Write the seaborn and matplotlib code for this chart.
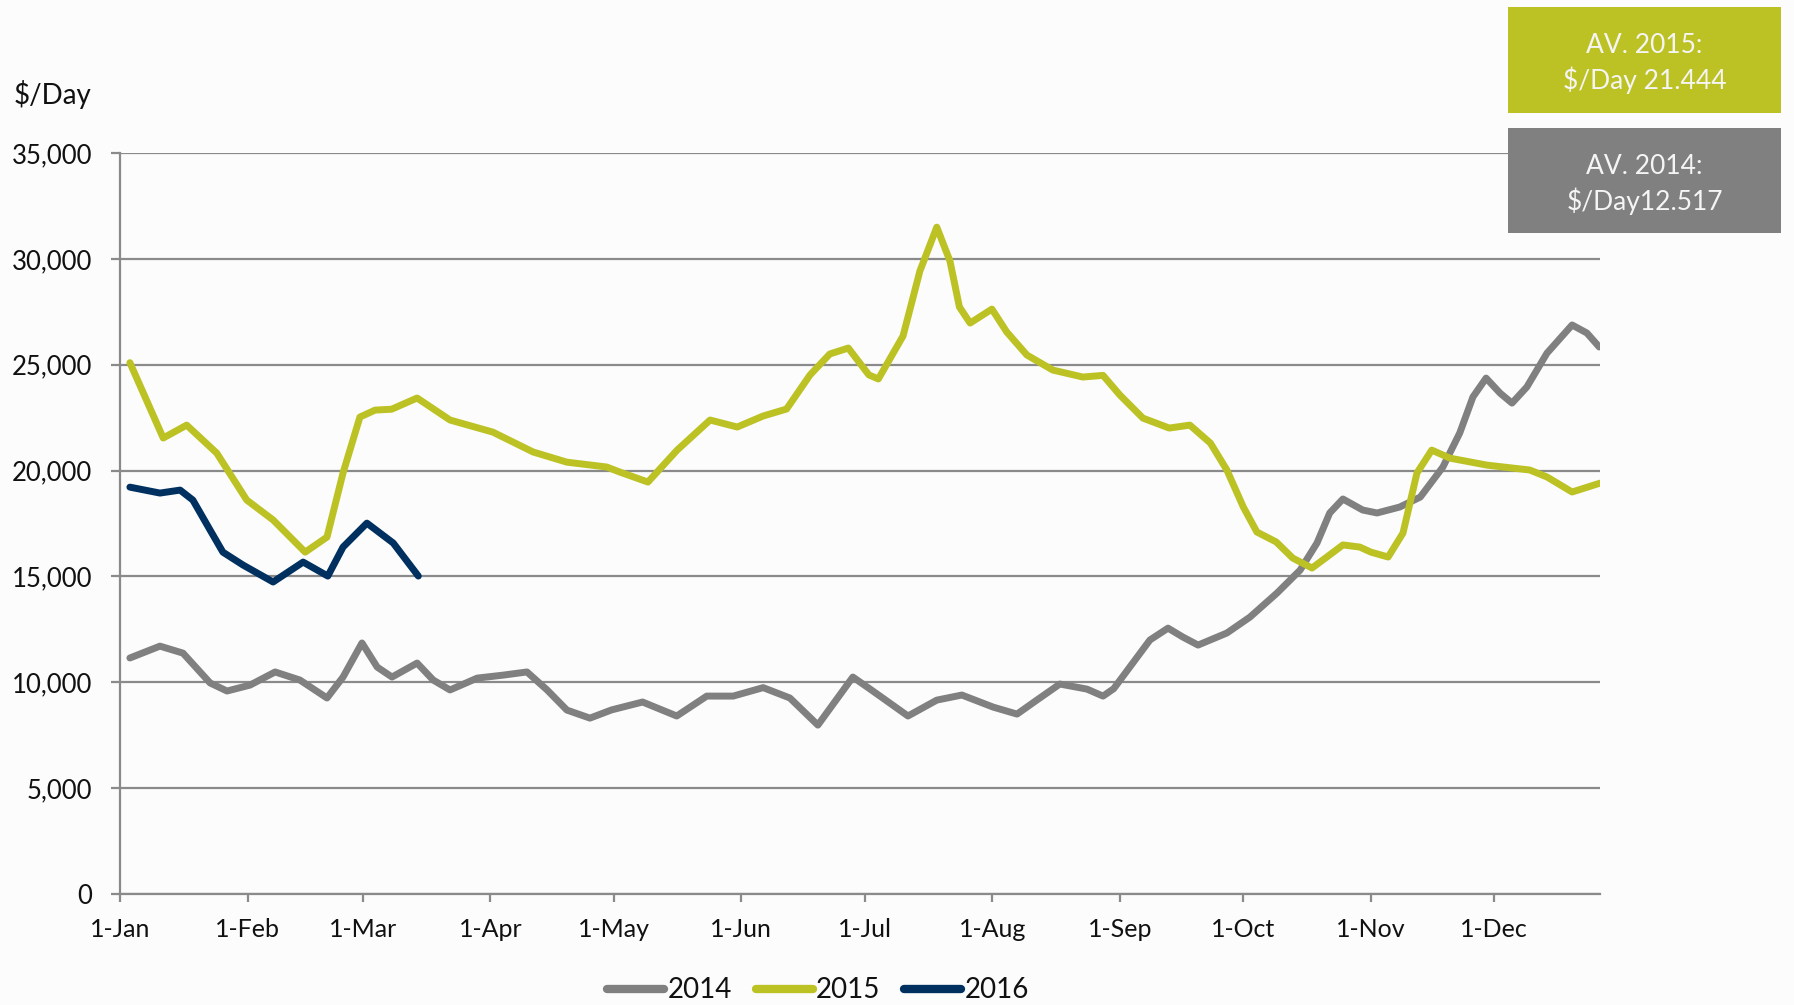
import numpy as np
import pandas as pd
import matplotlib
matplotlib.use("Agg")
import matplotlib.pyplot as plt
from matplotlib.lines import Line2D
from matplotlib.patches import Rectangle
import seaborn as sns

# Daily time-charter earnings ($/Day) by day of year
days_2014 = [2.4, 9.7, 15.3, 21.9, 26, 31.6, 37.7, 43.7, 50.3, 54.2, 58.8, 62.5, 66.1, 72.2,
             76.1, 80.2, 86.8, 93.1, 98.9, 103.8, 108.6, 114.2, 119.5, 127, 135.3, 142.6, 149,
             156.3, 162.8, 169.6, 178.1, 182.3, 184.7, 191.5, 198.5, 204.6, 212.2, 218, 222.8,
             228.4, 235, 238.9, 241.5, 245.4, 250.3, 254.7, 258.3, 262, 269, 274.6, 281.2,
             286.8, 290.9, 294, 297.2, 302, 305.5, 311, 316, 321.5, 325.6, 328.8, 332, 335.4,
             338.3, 341.9, 346.8, 352.9, 356.5, 359.5]
vals_2014 = [11150, 11710, 11380, 9970, 9590, 9870, 10490, 10110, 9260, 10250, 11860, 10720,
             10250, 10910, 10110, 9640, 10200, 10340, 10490, 9640, 8690, 8310, 8700, 9070, 8410,
             9350, 9350, 9750, 9260, 7980, 10250, 9680, 9350, 8410, 9160, 9400, 8830, 8500, 9160,
             9920, 9680, 9350, 9700, 10720, 12000, 12560, 12140, 11760, 12330, 13080, 14220,
             15300, 16580, 18000, 18660, 18140, 18000, 18280, 18750, 20170, 21780, 23480, 24370,
             23660, 23190, 23950, 25550, 26880, 26500, 25840]

days_2015 = [2.4, 10.5, 16.2, 23.5, 30.8, 37.2, 45, 50.3, 54.2, 58.3, 62, 66, 72.2, 80.2, 90.6,
             100.4, 108.6, 118.3, 121.5, 128.3, 135.4, 143.4, 150, 156.3, 162, 167.7, 172.5, 177,
             182, 184.3, 190.3, 194.4, 198.5, 201.7, 204, 206.6, 211.9, 215.5, 220.4, 226.7, 234,
             238.9, 243, 248.6, 255, 260, 265, 269, 273, 276.3, 281, 285, 289.7, 293.3, 297.2,
             301.3, 304, 308.2, 311.8, 315.2, 318.8, 323.2, 332.2, 342.6, 346.8, 352.9, 359.7]
vals_2015 = [25100, 21540, 22150, 20830, 18610, 17670, 16150, 16860, 19890, 22530, 22860, 22900,
             23430, 22390, 21820, 20880, 20400, 20170, 19930, 19460, 20970, 22390, 22060, 22580,
             22910, 24520, 25510, 25790, 24520, 24330, 26360, 29430, 31500, 29900, 27730, 26970,
             27630, 26550, 25460, 24750, 24420, 24500, 23570, 22480, 22010, 22150, 21300, 20030,
             18280, 17100, 16630, 15870, 15400, 15920, 16490, 16390, 16150, 15920, 17050, 19890,
             20970, 20590, 20260, 20030, 19700, 18990, 19410]

days_2016 = [2.4, 9.7, 14.6, 17.7, 21.9, 25, 29.9, 37.2, 44.5, 50.5, 54.2, 60, 66.4, 72.5]
vals_2016 = [19220, 18940, 19080, 18610, 17190, 16150, 15540, 14740, 15680, 15020, 16390,
             17520, 16580, 15020]

years = ["2014", "2015", "2016"]
colors = ["#808080", "#BCC224", "#00305F"]

month_starts = [0, 31, 59, 90, 120, 151, 181, 212, 243, 273, 304, 334]
month_labels = ["1-Jan", "1-Feb", "1-Mar", "1-Apr", "1-May", "1-Jun",
                "1-Jul", "1-Aug", "1-Sep", "1-Oct", "1-Nov", "1-Dec"]

avg_2015_text = ["AV. 2015:", "$/Day 21.444"]
avg_2014_text = ["AV. 2014:", "$/Day12.517"]

df = pd.concat([
    pd.DataFrame({"day": days_2014, "value": vals_2014, "year": "2014"}),
    pd.DataFrame({"day": days_2015, "value": vals_2015, "year": "2015"}),
    pd.DataFrame({"day": days_2016, "value": vals_2016, "year": "2016"}),
], ignore_index=True)

sns.set_theme(style="white")
plt.rcParams["font.family"] = ["Lato", "DejaVu Sans"]

fig = plt.figure(figsize=(17.94, 10.05), dpi=100)
fig.patch.set_facecolor("#fcfcfc")
ax = fig.add_axes([0.0669, 0.1104, 0.825, 0.7373])
ax.set_facecolor("none")

sns.lineplot(data=df, x="day", y="value", hue="year", hue_order=years,
             palette=dict(zip(years, colors)), estimator=None, sort=False,
             linewidth=5.0, legend=False, ax=ax,
             solid_joinstyle="round", solid_capstyle="round")

grid_c = "#8a8a8a"
ax.set_xlim(0, 359.7)
ax.set_ylim(0, 35000)
ax.set_yticks(np.arange(0, 35001, 5000))
ax.set_yticklabels([f"{int(v):,}" for v in np.arange(0, 35001, 5000)])
ax.set_xticks(month_starts)
ax.set_xticklabels(month_labels)
ax.yaxis.grid(True, color=grid_c, linewidth=1.6)
ax.xaxis.grid(False)
ax.set_axisbelow(True)
for side in ["top", "right"]:
    ax.spines[side].set_visible(False)
for side in ["left", "bottom"]:
    ax.spines[side].set_color(grid_c)
    ax.spines[side].set_linewidth(1.6)
ax.tick_params(axis="y", which="major", left=True, length=6.5, width=1.6, color=grid_c,
               pad=13.5, labelsize=18.5, labelcolor="#111111")
ax.tick_params(axis="x", which="major", bottom=True, length=6, width=1.6, color=grid_c,
               pad=11.5, labelsize=18, labelcolor="#111111")
ax.set_xlabel("")
ax.set_ylabel("")

fig.text(0.0075, 0.9055, "$/Day", fontsize=20, color="#111111", ha="left", va="center")

# Annual average boxes
W, H = 1794.0, 1005.0
def avg_box(y_top, y_bot, color, lines):
    x0, x1 = 1508 / W, 1781 / W
    fig.patches.append(Rectangle((x0, 1 - y_bot / H), x1 - x0, (y_bot - y_top) / H,
                                 transform=fig.transFigure, facecolor=color,
                                 edgecolor="none", zorder=0))
    yc = (y_top + y_bot) / 2 + 3
    fig.text((x0 + x1) / 2, 1 - (yc - 17.5) / H, lines[0], color="#f5f5f5", fontsize=19,
             ha="center", va="center")
    fig.text((x0 + x1) / 2, 1 - (yc + 17.5) / H, lines[1], color="#f5f5f5", fontsize=19,
             ha="center", va="center")

avg_box(7, 113, colors[1], avg_2015_text)
avg_box(128, 233, colors[0], avg_2014_text)

handles = [Line2D([0], [0], color=c, linewidth=6, solid_capstyle="round") for c in colors]
fig.legend(handles, years, loc="center", bbox_to_anchor=(0.456, 0.0145), ncol=3,
           frameon=False, fontsize=20, handlelength=2.05, handletextpad=0.12,
           columnspacing=0.85, labelcolor="#111111")

fig.savefig("out.png", dpi=100, facecolor=fig.get_facecolor())
